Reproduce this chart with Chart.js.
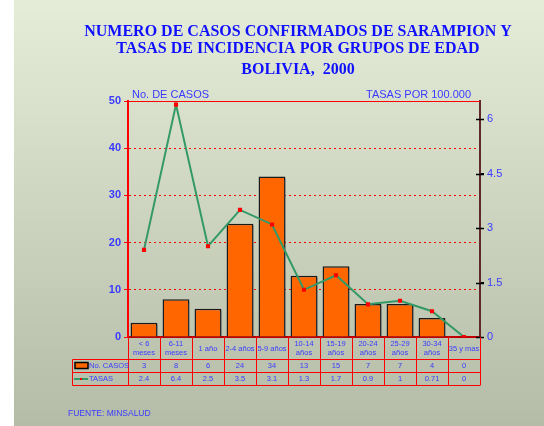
<!DOCTYPE html>
<html>
<head>
<meta charset="utf-8">
<script src="https://cdn.jsdelivr.net/npm/chart.js@4.4.1/dist/chart.umd.min.js"></script>
<style>
  body { margin: 0; background: #fff; }
  #chart { display: block; }
</style>
</head>
<body>
<canvas id="chart" width="544" height="426"></canvas>
<script>
// datos
const grupos = [["< 6", "meses"], ["6-11", "meses"], ["1 año"], ["2-4 años"], ["5-9 años"],
  ["10-14", "años"], ["15-19", "años"], ["20-24", "años"], ["25-29", "años"], ["30-34", "años"], ["35 y mas"]];
const casos = [3, 8, 6, 24, 34, 13, 15, 7, 7, 4, 0];
const tasas = [2.4, 6.4, 2.5, 3.5, 3.1, 1.3, 1.7, 0.9, 1, 0.71, 0];
const ticksTasas = [0, 1.5, 3, 4.5, 6];
const titulo = ["NUMERO DE CASOS CONFIRMADOS DE SARAMPION Y", "TASAS DE INCIDENCIA POR GRUPOS DE EDAD", "BOLIVIA,  2000"];

const AZUL = "#3a3aff";
const ROJO = "#ff0000";

const fondo = {
  id: "fondo",
  beforeDraw(chart) {
    const ctx = chart.ctx;
    ctx.save();
    ctx.fillStyle = "#fff";
    ctx.fillRect(0, 0, chart.width, chart.height);
    const g = ctx.createLinearGradient(0, 0, 0, chart.height);
    g.addColorStop(0, "#e5edd9");
    g.addColorStop(1, "#b4bca8");
    ctx.fillStyle = g;
    ctx.fillRect(14, 0, chart.width - 14, chart.height);
    ctx.restore();
  }
};

// sombra de las barras
const sombra = {
  id: "sombra",
  beforeDatasetDraw(chart, args) {
    if (args.meta.type !== "bar") return;
    const ctx = chart.ctx;
    ctx.save();
    ctx.shadowColor = "rgba(60,60,60,0.55)";
    ctx.shadowOffsetX = 2;
    ctx.shadowOffsetY = 2;
    ctx.shadowBlur = 1;
  },
  afterDatasetDraw(chart, args) {
    if (args.meta.type !== "bar") return;
    chart.ctx.restore();
  }
};

const textos = {
  id: "textos",
  afterDraw(chart) {
    const ctx = chart.ctx;
    const area = chart.chartArea;
    const x = chart.scales.x;
    ctx.save();

    // titulo
    ctx.fillStyle = "#1010ff";
    ctx.font = "bold 16px 'Liberation Serif'";
    ctx.textAlign = "center";
    ctx.textBaseline = "alphabetic";
    const bases = [35.5, 52.5, 74];
    titulo.forEach((t, i) => ctx.fillText(t, 298, bases[i]));

    // titulos de ejes
    ctx.fillStyle = AZUL;
    ctx.font = "11px 'Liberation Sans'";
    ctx.textAlign = "left";
    ctx.fillText("No. DE CASOS", area.left + 4, 98);
    ctx.textAlign = "right";
    ctx.fillText("TASAS POR 100.000", area.right - 9, 98);

    // borde superior
    ctx.strokeStyle = ROJO;
    ctx.lineWidth = 1;
    ctx.beginPath();
    ctx.moveTo(area.left, area.top + 0.5);
    ctx.lineTo(area.right, area.top + 0.5);
    ctx.stroke();

    // marcas del eje derecho (cruzan el eje)
    const yr = chart.scales.yRight;
    ctx.strokeStyle = "#000";
    ctx.lineWidth = 1.5;
    ticksTasas.forEach(v => {
      const py = Math.round(yr.getPixelForValue(v)) + 0.5;
      ctx.beginPath();
      ctx.moveTo(area.right - 4, py);
      ctx.lineTo(area.right + 4, py);
      ctx.stroke();
    });

    // tabla de datos
    const n = grupos.length;
    const w = (area.right - area.left) / n;
    const y0 = area.bottom, y1 = 359.5, y2 = 372.5, y3 = 385.5, xl = 72.5;
    ctx.strokeStyle = ROJO;
    ctx.lineWidth = 1;
    ctx.beginPath();
    for (let i = 0; i <= n; i++) {
      const px = Math.round(area.left + i * w) + 0.5;
      ctx.moveTo(px, y0);
      ctx.lineTo(px, y3);
    }
    [y1, y2, y3].forEach(py => { ctx.moveTo(xl, py); ctx.lineTo(area.right, py); });
    ctx.moveTo(xl, y1);
    ctx.lineTo(xl, y3);
    ctx.stroke();

    ctx.fillStyle = AZUL;
    ctx.font = "7.5px 'Liberation Sans'";
    ctx.textAlign = "center";
    ctx.textBaseline = "middle";
    grupos.forEach((lab, i) => {
      const cx = x.getPixelForValue(i);
      if (lab.length === 2) {
        ctx.fillText(lab[0], cx, 344);
        ctx.fillText(lab[1], cx, 353);
      } else {
        ctx.fillText(lab[0], cx, 348.5);
      }
      ctx.fillText(String(casos[i]), cx, (y1 + y2) / 2);
      ctx.fillText(String(tasas[i]), cx, (y2 + y3) / 2);
    });

    // leyenda en la tabla
    ctx.fillStyle = "#ff6600";
    ctx.fillRect(75, 362.5, 13, 6);
    ctx.strokeStyle = "#000";
    ctx.lineWidth = 1.5;
    ctx.strokeRect(75, 362.5, 13, 6);
    ctx.strokeStyle = "#339966";
    ctx.lineWidth = 2;
    ctx.beginPath();
    ctx.moveTo(74, 379);
    ctx.lineTo(88, 379);
    ctx.stroke();
    ctx.fillStyle = ROJO;
    ctx.fillRect(80, 378, 2, 2);
    ctx.fillStyle = AZUL;
    ctx.textAlign = "left";
    ctx.fillText("No. CASOS", 89, (y1 + y2) / 2);
    ctx.fillText("TASAS", 89, (y2 + y3) / 2);

    // fuente
    ctx.font = "8.5px 'Liberation Sans'";
    ctx.textBaseline = "alphabetic";
    ctx.fillText("FUENTE: MINSALUD", 68, 416);
    ctx.restore();
  }
};

new Chart(document.getElementById("chart"), {
  type: "bar",
  data: {
    labels: grupos,
    datasets: [
      {
        type: "line",
        label: "TASAS",
        data: tasas,
        yAxisID: "yRight",
        borderColor: "#339966",
        borderWidth: 2,
        tension: 0,
        pointStyle: "rect",
        pointRadius: 1.5,
        pointBackgroundColor: ROJO,
        pointBorderColor: ROJO,
        order: 0
      },
      {
        label: "No. CASOS",
        data: casos,
        yAxisID: "y",
        backgroundColor: "#ff6600",
        borderColor: "#1a1a1a",
        borderWidth: 1.5,
        barPercentage: 0.84,
        categoryPercentage: 1,
        order: 1
      }
    ]
  },
  options: {
    responsive: false,
    animation: false,
    devicePixelRatio: 1,
    layout: { padding: { top: 101, left: 0, right: 0, bottom: 0 } },
    plugins: {
      legend: { display: false },
      title: { display: false },
      tooltip: { enabled: false }
    },
    scales: {
      x: {
        grid: { display: false, drawTicks: false },
        border: { color: "#c00000", width: 2 },
        ticks: { display: false },
        afterFit(s) { s.height = 89; }
      },
      y: {
        position: "left",
        min: 0,
        max: 50,
        ticks: { stepSize: 10, color: AZUL, font: { family: "Liberation Sans", size: 11, weight: "bold" }, padding: 3 },
        grid: {
          color: ctx => (ctx.tick && ctx.tick.value > 0 && ctx.tick.value < 50) ? ROJO : "rgba(0,0,0,0)",
          tickColor: ROJO,
          tickLength: 4
        },
        border: { color: ROJO, width: 2, dash: [2, 3] },
        afterFit(s) { s.width = 128; }
      },
      yRight: {
        position: "right",
        min: 0,
        max: 6.5,
        afterBuildTicks(s) { s.ticks = ticksTasas.map(v => ({ value: v })); },
        ticks: { color: AZUL, font: { family: "Liberation Sans", size: 11 }, padding: 3 },
        grid: { drawOnChartArea: false, tickLength: 4, tickColor: "#000" },
        border: { color: "#602828", width: 2 },
        afterFit(s) { s.width = 64; }
      }
    }
  },
  plugins: [fondo, sombra, textos]
});
</script>
</body>
</html>
